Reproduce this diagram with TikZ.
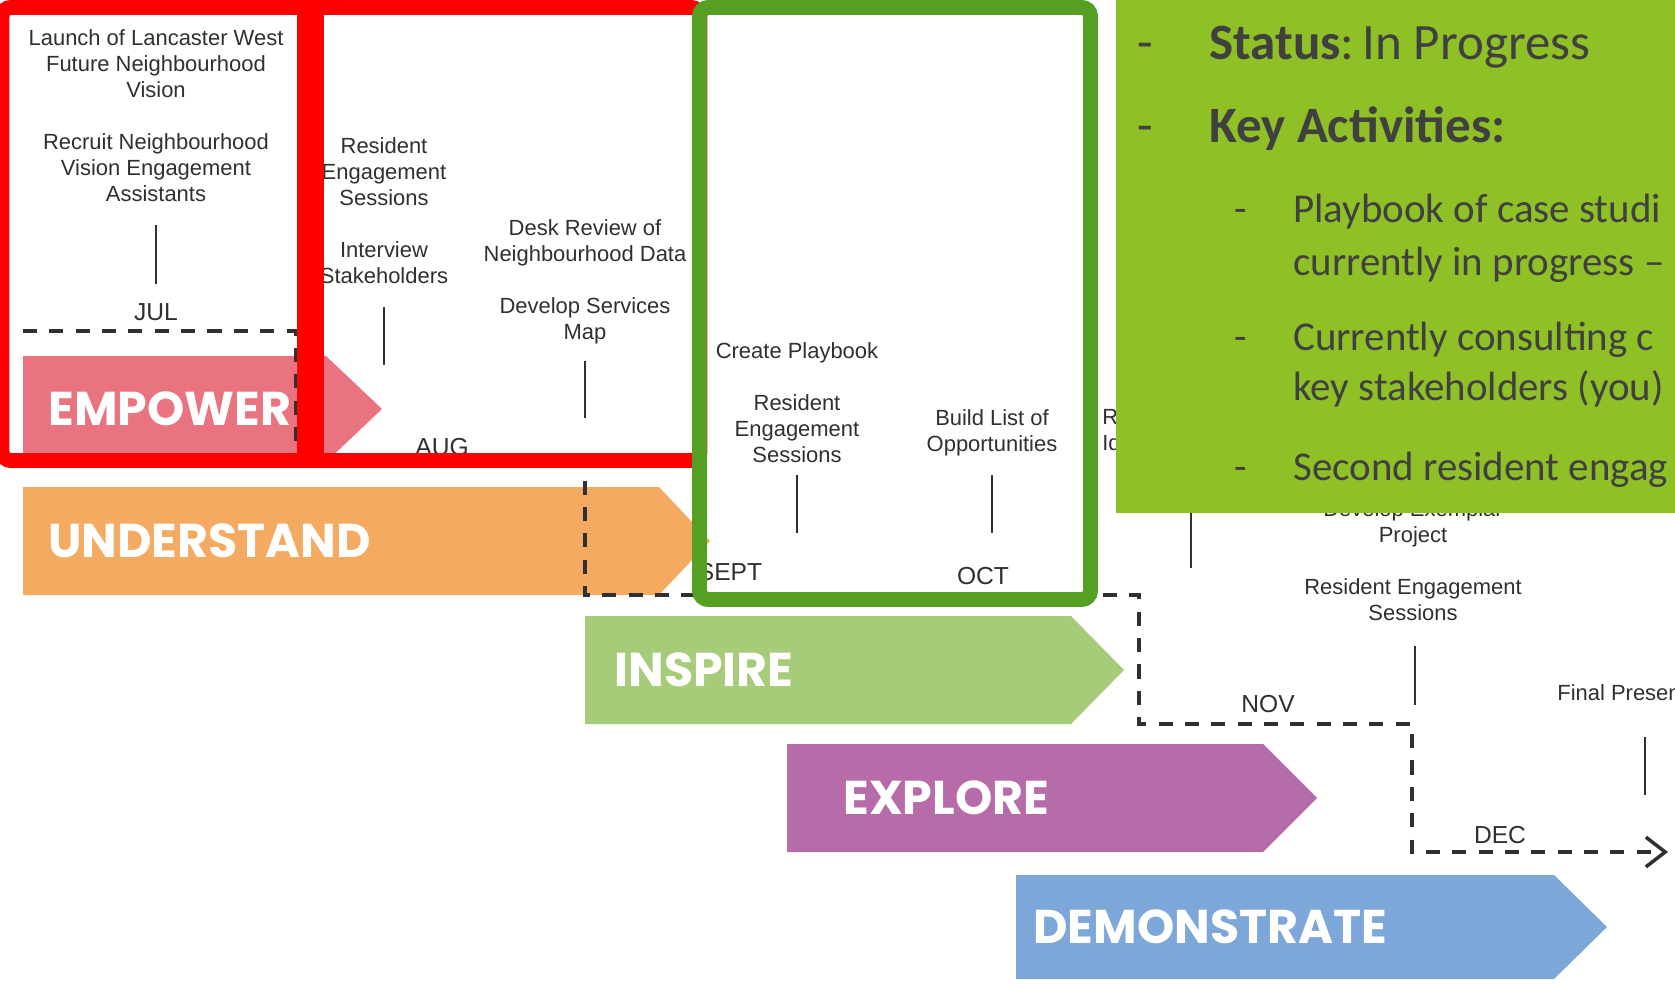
\documentclass[tikz,border=0pt]{standalone}
\usepackage{fontspec}
\usetikzlibrary{arrows.meta}

\newfontfamily\tlfont{Liberation Sans}
\newfontfamily\notefont{Carlito}
\newfontfamily\bandfont{Poppins}

\definecolor{empowerpink}{RGB}{233,116,128}
\definecolor{understandorange}{RGB}{244,170,97}
\definecolor{inspiregreen}{RGB}{166,203,121}
\definecolor{explorepurple}{RGB}{182,108,169}
\definecolor{demoblue}{RGB}{125,167,216}
\definecolor{framered}{RGB}{255,0,0}
\definecolor{framegreen}{RGB}{85,160,34}
\definecolor{notegreen}{RGB}{143,192,38}
\definecolor{notetext}{RGB}{64,64,64}
\definecolor{inkgray}{RGB}{48,48,48}

\tikzset{
	bandlabel/.style={anchor=west, inner sep=0, text=white, font=\bandfont\bfseries\fontsize{27}{30}\selectfont},
	event/.style={anchor=north, inner sep=0, align=center, text=inkgray, font=\tlfont\fontsize{12.5}{14.8}\selectfont},
	month/.style={anchor=base, inner sep=0, text=inkgray, font=\tlfont\fontsize{14}{16}\selectfont},
	tick/.style={draw=inkgray, line width=1.1pt},
	timeline/.style={draw=inkgray, line width=2pt, dash pattern=on 8pt off 7pt},
	frame/.style={line width=8.5pt, rounded corners=5pt},
	notehead/.style={anchor=base west, inner sep=0, text=notetext, font=\notefont\fontsize{29}{31}\selectfont},
	noteitem/.style={anchor=base west, inner sep=0, text=notetext, font=\notefont\fontsize{23.3}{30}\selectfont}
}

\begin{document}
\begin{tikzpicture}[x=0.02cm, y=-0.02cm]
{
	\useasboundingbox (0,0) rectangle (1675,983);
	\clip (0,0) rectangle (1675,983);
	\fill[white] (0,0) rectangle (1675,983);

	% phase arrows
	\fill[empowerpink] (23,356) -- (326,356) -- (382,409) -- (326,462) -- (23,462) -- cycle;
	\fill[understandorange] (23,487) -- (659,487) -- (710,541) -- (659,595) -- (23,595) -- cycle;
	\fill[inspiregreen] (585,616) -- (1071,616) -- (1124,670) -- (1071,724) -- (585,724) -- cycle;
	\fill[explorepurple] (787,744) -- (1263,744) -- (1317,798) -- (1263,852) -- (787,852) -- cycle;
	\fill[demoblue] (1016,875) -- (1554,875) -- (1607,927) -- (1554,979) -- (1016,979) -- cycle;
	\node[bandlabel] (empower) at (48,409) {EMPOWER};
	\node[bandlabel] (understand) at (48,541) {UNDERSTAND};
	\node[bandlabel] (inspire) at (614,670) {INSPIRE};
	\node[bandlabel] (explore) at (843,798) {EXPLORE};
	\node[bandlabel] (demonstrate) at (1033,927) {DEMONSTRATE};

	% dashed time line
	\coordinate (d0) at (23,331);
	\coordinate (d1) at (296,331);
	\coordinate (d2) at (296,461);
	\coordinate (d3) at (585,461);
	\coordinate (d4) at (585,595);
	\coordinate (d5) at (1139,595);
	\coordinate (d6) at (1139,724);
	\coordinate (d7) at (1412,724);
	\coordinate (d8) at (1412,852);
	\coordinate (d9) at (1668,852);
	\draw[timeline, -{Straight Barb[length=11pt, width=17pt]}] (d0) -- (d1) -- (d2) -- (d3) -- (d4) -- (d5) -- (d6) -- (d7) -- (d8) -- (d9);

	% months
	\node[month] (jul) at (156,320) {JUL};
	\node[month] (aug) at (442,455) {AUG};
	\node[month] (sept) at (730,580) {SEPT};
	\node[month] (oct) at (983,584) {OCT};
	\node[month] (nov) at (1268,712) {NOV};
	\node[month] (dec) at (1500,843) {DEC};

	% events
	\node[event] (julev) at (156,29) {Launch of Lancaster West\\Future Neighbourhood\\Vision\\[14.8pt]Recruit Neighbourhood\\Vision Engagement\\Assistants};
	\node[event] (augev) at (384,137) {Resident\\Engagement\\Sessions\\[14.8pt]Interview\\Stakeholders};
	\node[event] (deskev) at (585,219) {Desk Review of\\Neighbourhood Data\\[14.8pt]Develop Services\\Map};
	\node[event] (septev) at (797,342) {Create Playbook\\[14.8pt]Resident\\Engagement\\Sessions};
	\node[event] (octev) at (992,409) {Build List of\\Opportunities};
	\node[event, anchor=north west, align=left] (idev) at (1102,409) {R\\Id};
	\node[event] (novev) at (1413,500) {Develop Exemplar\\Project\\[14.8pt]Resident Engagement\\Sessions};
	\node[event, anchor=north west] (decev) at (1557,684) {Final Presen};

	\draw[tick] (julev.south) ++(0,23) -- ++(0,59);
	\draw[tick] (augev.south) ++(0,23) -- ++(0,58);
	\draw[tick] (deskev.south) ++(0,17) -- ++(0,57);
	\draw[tick] (septev.south) ++(0,12) -- ++(0,58);
	\draw[tick] (octev.south) ++(0,19) -- ++(0,58);
	\draw[tick] (idev.south west) ++(89,53) -- ++(0,64);
	\draw[tick] (novev.south) ++(2,25) -- ++(0,59);
	\draw[tick] (decev.south west) ++(88,36) -- ++(0,58);

	% highlight frames
	\draw[framered, frame] (2,7.5) rectangle (700,460.5);
	\fill[framered] (297,0) rectangle (324,468);
	\draw[framegreen, frame] (699.5,7.5) rectangle (1090.5,599.5);

	% status note
	\fill[notegreen] (1116,-10) rectangle (1690,513);
	\node[notehead] (dashstatus) at (1137,60) {-};
	\node[notehead] (status) at (1209,60) {\textbf{Status}:\,In Progress};
	\node[notehead] (dashkey) at (1137,143) {-};
	\node[notehead] (keyact) at (1209,143) {\textbf{Key Activities:}};
	\node[noteitem] (dashplay) at (1234,222) {-};
	\node[noteitem] (playbook) at (1293,222) {Playbook of case studi};
	\node[noteitem] (playbookb) at (1293,275) {currently in progress –};
	\node[noteitem] (dashcons) at (1234,350) {-};
	\node[noteitem] (consult) at (1293,350) {Currently consulting c};
	\node[noteitem] (consultb) at (1293,400) {key stakeholders (you)};
	\node[noteitem] (dashsecond) at (1234,480) {-};
	\node[noteitem] (second) at (1293,480) {Second resident engag};
}
\end{tikzpicture}
\end{document}
